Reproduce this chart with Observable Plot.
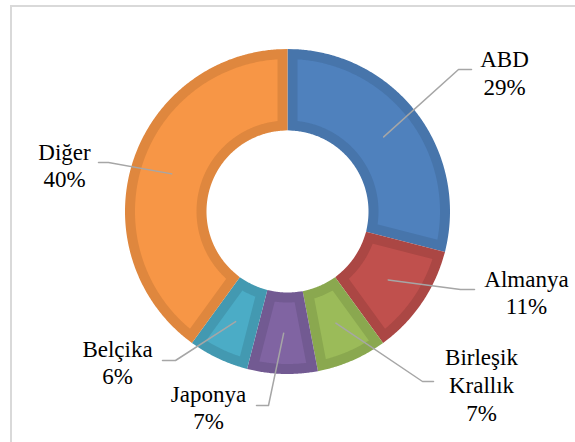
<!DOCTYPE html>
<html>
<head>
<meta charset="utf-8">
<script src="https://cdn.jsdelivr.net/npm/d3@7"></script>
<script src="https://cdn.jsdelivr.net/npm/@observablehq/plot@0.6"></script>
<style>
  html, body { margin: 0; padding: 0; background: #fff; }
  #wrap { position: relative; width: 575px; height: 442px; overflow: hidden; }
  #frame { position: absolute; left: 10px; top: 5px; width: 580px; height: 450px;
           border-top: 2px solid #d9d9d9; border-left: 2px solid #d9d9d9; box-sizing: border-box; }
  #chart { position: absolute; left: 0; top: 0; }
</style>
</head>
<body>
<div id="wrap"><div id="frame"></div><div id="chart"></div></div>
<script>
// ---- data ----
const categories = ["ABD", "Almanya", "Birleşik Krallık", "Japonya", "Belçika", "Diğer"];
const labelNames = ["ABD", "Almanya", "Birleşik\nKrallık", "Japonya", "Belçika", "Diğer"];
const shares = [29, 11, 7, 7, 6, 40];

// ---- styles ----
const fills   = ["#4f81bd", "#c0504d", "#9bbb59", "#8064a2", "#4bacc6", "#f79646"];
const borders = ["#4775ab", "#ab4744", "#8aa84f", "#725a92", "#4399b1", "#df873e"];
const serif = "'Liberation Serif', 'Times New Roman', serif";

// ---- layout (units: px relative to donut centre, y up) ----
const W = 575, H = 442, CX = 287, CY = 211;
const R_OUT = 162.5, R_IN = 81, BAND = 10;
// label block centre, leader elbow and end (page pixels)
const labelLayout = [
  {tx: 504, ty: 71.6,  ex: 458, ey: 69,  fx: 471, fy: 69},
  {tx: 526, ty: 291,   ex: 460, ey: 289, fx: 474, fy: 289},
  {tx: 481, ty: 383.6, ex: 422, ey: 381, fx: 433, fy: 381},
  {tx: 208, ty: 406,   ex: 268, ey: 405, fx: 256, fy: 405},
  {tx: 117, ty: 361,   ex: 175, ey: 360, fx: 162, fy: 360},
  {tx: 64,  ty: 164,   ex: 108, ey: 162, fx: 98,  fy: 162}
];
const px = (x) => x - CX, py = (y) => CY - y;

const total = d3.sum(shares);
let acc = 0;
const slices = shares.map((v, i) => {
  const a0 = acc / total * 2 * Math.PI;
  acc += v;
  const a1 = acc / total * 2 * Math.PI;
  return {i, a0, a1, mid: (a0 + a1) / 2};
});

function slicePolygon(s) {
  const h = BAND / 2;
  const ro = R_OUT - h, ri = R_IN + h;
  const doff = Math.asin(h / ro), dinn = Math.asin(h / ri);
  const pts = [];
  const n = 2 * Math.max(4, Math.ceil((s.a1 - s.a0) / (Math.PI / 180)));
  for (let k = 0; k <= n; k++) {
    const a = (s.a0 + doff) + (s.a1 - s.a0 - 2 * doff) * k / n;
    pts.push({x: ro * Math.sin(a), y: ro * Math.cos(a)});
  }
  for (let k = 0; k <= n; k++) {
    const a = (s.a1 - dinn) - (s.a1 - s.a0 - 2 * dinn) * k / n;
    pts.push({x: ri * Math.sin(a), y: ri * Math.cos(a)});
  }
  // start/end the outline in the middle of the outer arc so all corners are mitred
  const half = n / 2;
  const rotated = pts.slice(half).concat(pts.slice(0, half + 1));
  return rotated;
}

const sliceMarks = slices.map(s =>
  Plot.line(slicePolygon(s), {
    x: "x", y: "y", fill: fills[s.i], stroke: borders[s.i],
    strokeWidth: BAND, strokeLinejoin: "miter", strokeMiterlimit: 10
  })
);

const rMid = (R_OUT + R_IN) / 2;
const leaders = slices.map(s => {
  const L = labelLayout[s.i];
  return [
    {x: rMid * Math.sin(s.mid), y: rMid * Math.cos(s.mid), k: s.i},
    {x: px(L.ex), y: py(L.ey), k: s.i},
    {x: px(L.fx), y: py(L.fy), k: s.i}
  ];
}).flat();

const labels = slices.map(s => ({
  x: px(labelLayout[s.i].tx), y: py(labelLayout[s.i].ty),
  text: `${labelNames[s.i]}\n${shares[s.i]}%`
}));

const chart = Plot.plot({
  width: W, height: H,
  margin: 0,
  x: {type: "linear", domain: [-CX, W - CX], range: [0, W], axis: null},
  y: {type: "linear", domain: [CY - H, CY], range: [H, 0], axis: null},
  style: {background: "transparent", fontFamily: serif},
  marks: [
    ...sliceMarks,
    Plot.line(leaders, {x: "x", y: "y", z: "k", stroke: "#a6a6a6", strokeWidth: 1.5}),
    Plot.text(labels, {
      x: "x", y: "y", text: "text", fontSize: 23, lineHeight: 1.2,
      textAnchor: "middle", lineAnchor: "middle", fill: "#000",
      fontFamily: serif
    })
  ]
});
document.getElementById("chart").appendChild(chart);
</script>
</body>
</html>
